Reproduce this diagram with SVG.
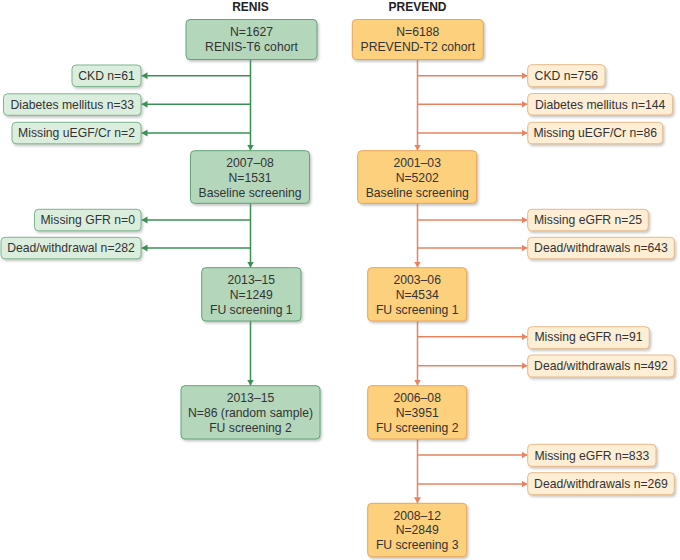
<svg xmlns="http://www.w3.org/2000/svg" width="680" height="560" viewBox="0 0 680 560">
<defs>
  <filter id="sh" x="-10%" y="-10%" width="130%" height="140%">
    <feDropShadow dx="1.5" dy="2" stdDeviation="1" flood-color="#888" flood-opacity="0.45"/>
  </filter>
  <marker id="ag" markerUnits="userSpaceOnUse" markerWidth="8" markerHeight="8" refX="6" refY="3.5" orient="auto">
    <path d="M0,0 L6,3.5 L0,7 z" fill="#3b8f55"/>
  </marker>
  <marker id="ao" markerUnits="userSpaceOnUse" markerWidth="8" markerHeight="8" refX="6" refY="3.5" orient="auto">
    <path d="M0,0 L6,3.5 L0,7 z" fill="#e9835f"/>
  </marker>
  <style>
    text{font-family:"Liberation Sans",Arial,sans-serif;font-size:12.2px;fill:#333;text-anchor:middle}
    .title{font-weight:bold;font-size:12px;fill:#222}
    .gm{fill:#b4d7bb;stroke:#62a377;stroke-width:1;filter:url(#sh)}
    .gs{fill:#dbeedd;stroke:#7db58e;stroke-width:1;filter:url(#sh)}
    .om{fill:#fdd07e;stroke:#e9a55a;stroke-width:1;filter:url(#sh)}
    .os{fill:#fdeed5;stroke:#e8b98a;stroke-width:1;filter:url(#sh)}
    .lg{stroke:#3b8f55;stroke-width:1.5;fill:none}
    .lo{stroke:#e9835f;stroke-width:1.5;fill:none}
  </style>
</defs>
<rect width="680" height="560" fill="#fff"/>
<text class="title" x="250.5" y="11">RENIS</text>
<text class="title" x="417.5" y="11">PREVEND</text>

<g id="connectors">
  <line class="lg" x1="250.5" y1="59.5" x2="250.5" y2="150.5" marker-end="url(#ag)"/>
  <line class="lg" x1="250.5" y1="75.7" x2="141.5" y2="75.7" marker-end="url(#ag)"/>
  <line class="lg" x1="250.5" y1="104.3" x2="141.5" y2="104.3" marker-end="url(#ag)"/>
  <line class="lg" x1="250.5" y1="133" x2="141.5" y2="133" marker-end="url(#ag)"/>
  <line class="lg" x1="250.5" y1="203.5" x2="250.5" y2="267.5" marker-end="url(#ag)"/>
  <line class="lg" x1="250.5" y1="220" x2="141.5" y2="220" marker-end="url(#ag)"/>
  <line class="lg" x1="250.5" y1="248" x2="141.5" y2="248" marker-end="url(#ag)"/>
  <line class="lg" x1="250.5" y1="321" x2="250.5" y2="385.5" marker-end="url(#ag)"/>

  <line class="lo" x1="417.5" y1="59.5" x2="417.5" y2="150.5" marker-end="url(#ao)"/>
  <line class="lo" x1="417.5" y1="75.7" x2="527.5" y2="75.7" marker-end="url(#ao)"/>
  <line class="lo" x1="417.5" y1="104.3" x2="527.5" y2="104.3" marker-end="url(#ao)"/>
  <line class="lo" x1="417.5" y1="133" x2="527.5" y2="133" marker-end="url(#ao)"/>
  <line class="lo" x1="417.5" y1="203.5" x2="417.5" y2="267.5" marker-end="url(#ao)"/>
  <line class="lo" x1="417.5" y1="220" x2="527.5" y2="220" marker-end="url(#ao)"/>
  <line class="lo" x1="417.5" y1="248" x2="527.5" y2="248" marker-end="url(#ao)"/>
  <line class="lo" x1="417.5" y1="321" x2="417.5" y2="385.5" marker-end="url(#ao)"/>
  <line class="lo" x1="417.5" y1="336.7" x2="527.5" y2="336.7" marker-end="url(#ao)"/>
  <line class="lo" x1="417.5" y1="365.7" x2="527.5" y2="365.7" marker-end="url(#ao)"/>
  <line class="lo" x1="417.5" y1="439" x2="417.5" y2="503.3" marker-end="url(#ao)"/>
  <line class="lo" x1="417.5" y1="455" x2="527.5" y2="455" marker-end="url(#ao)"/>
  <line class="lo" x1="417.5" y1="484" x2="527.5" y2="484" marker-end="url(#ao)"/>
</g>

<!-- RENIS -->
<g id="renis-cohort">
  <rect class="gm" x="186" y="19.5" width="131" height="40" rx="4"/>
  <text x="251.5" y="36">N=1627</text>
  <text x="251.5" y="50.5">RENIS-T6 cohort</text>
</g>
<g id="renis-ckd">
  <rect class="gs" x="72" y="65" width="69" height="21.5" rx="4"/>
  <text x="106.5" y="80">CKD n=61</text>
</g>
<g id="renis-dm">
  <rect class="gs" x="3.5" y="93.8" width="137.5" height="21.5" rx="4"/>
  <text x="72.3" y="108.8">Diabetes mellitus n=33</text>
</g>
<g id="renis-uegf">
  <rect class="gs" x="12" y="122.3" width="129" height="21.5" rx="4"/>
  <text x="76.5" y="137.3">Missing uEGF/Cr n=2</text>
</g>
<g id="renis-baseline">
  <rect class="gm" x="190.5" y="150.7" width="119" height="52.6" rx="4"/>
  <text x="250" y="167.3">2007–08</text>
  <text x="250" y="182">N=1531</text>
  <text x="250" y="196.6">Baseline screening</text>
</g>
<g id="renis-gfr">
  <rect class="gs" x="34.5" y="209.3" width="106.5" height="21.5" rx="4"/>
  <text x="87.7" y="224.4">Missing GFR n=0</text>
</g>
<g id="renis-dead">
  <rect class="gs" x="1" y="237.3" width="140" height="21.5" rx="4"/>
  <text x="71" y="252.4">Dead/withdrawal n=282</text>
</g>
<g id="renis-fu1">
  <rect class="gm" x="201.7" y="267.7" width="99.3" height="53.3" rx="4"/>
  <text x="251.3" y="284.3">2013–15</text>
  <text x="251.3" y="298.9">N=1249</text>
  <text x="251.3" y="313.6">FU screening 1</text>
</g>
<g id="renis-fu2">
  <rect class="gm" x="181" y="385.7" width="139" height="53.3" rx="4"/>
  <text x="250.5" y="402">2013–15</text>
  <text x="250.5" y="416.6">N=86 (random sample)</text>
  <text x="250.5" y="431.6">FU screening 2</text>
</g>

<!-- PREVEND -->
<g id="prevend-cohort">
  <rect class="om" x="352.3" y="19.5" width="131" height="40" rx="4"/>
  <text x="417.8" y="36">N=6188</text>
  <text x="417.8" y="50.5">PREVEND-T2 cohort</text>
</g>
<g id="prevend-ckd">
  <rect class="os" x="527.7" y="64.7" width="77.3" height="22" rx="4"/>
  <text x="566.3" y="80">CKD n=756</text>
</g>
<g id="prevend-dm">
  <rect class="os" x="527.7" y="93.5" width="145" height="21.5" rx="4"/>
  <text x="600.2" y="108.8">Diabetes mellitus n=144</text>
</g>
<g id="prevend-uegf">
  <rect class="os" x="527.7" y="122.3" width="135" height="21.5" rx="4"/>
  <text x="595.2" y="137.3">Missing uEGF/Cr n=86</text>
</g>
<g id="prevend-baseline">
  <rect class="om" x="357.7" y="150.7" width="119" height="52.6" rx="4"/>
  <text x="417.2" y="167.3">2001–03</text>
  <text x="417.2" y="182">N=5202</text>
  <text x="417.2" y="196.6">Baseline screening</text>
</g>
<g id="prevend-egfr1">
  <rect class="os" x="527.7" y="209.3" width="120.6" height="21.5" rx="4"/>
  <text x="588" y="224.4">Missing eGFR n=25</text>
</g>
<g id="prevend-dead1">
  <rect class="os" x="527.7" y="237.3" width="146.6" height="21.5" rx="4"/>
  <text x="601" y="252.4">Dead/withdrawals n=643</text>
</g>
<g id="prevend-fu1">
  <rect class="om" x="367.7" y="267.7" width="99" height="53.3" rx="4"/>
  <text x="417.2" y="284.3">2003–06</text>
  <text x="417.2" y="298.9">N=4534</text>
  <text x="417.2" y="313.6">FU screening 1</text>
</g>
<g id="prevend-egfr2">
  <rect class="os" x="527.7" y="326.7" width="121.6" height="22" rx="4"/>
  <text x="588.5" y="341.3">Missing eGFR n=91</text>
</g>
<g id="prevend-dead2">
  <rect class="os" x="527.7" y="355" width="146.6" height="22" rx="4"/>
  <text x="601" y="370.3">Dead/withdrawals n=492</text>
</g>
<g id="prevend-fu2">
  <rect class="om" x="367.7" y="385.7" width="99" height="53.3" rx="4"/>
  <text x="417.2" y="402">2006–08</text>
  <text x="417.2" y="416.6">N=3951</text>
  <text x="417.2" y="431.6">FU screening 2</text>
</g>
<g id="prevend-egfr3">
  <rect class="os" x="527.7" y="444.3" width="128.3" height="22" rx="4"/>
  <text x="591.8" y="459.5">Missing eGFR n=833</text>
</g>
<g id="prevend-dead3">
  <rect class="os" x="527.7" y="472.7" width="146.6" height="22" rx="4"/>
  <text x="601" y="488.3">Dead/withdrawals n=269</text>
</g>
<g id="prevend-fu3">
  <rect class="om" x="367.7" y="503.3" width="99" height="53.5" rx="4"/>
  <text x="417.2" y="519.8">2008–12</text>
  <text x="417.2" y="534.3">N=2849</text>
  <text x="417.2" y="549">FU screening 3</text>
</g>
</svg>
